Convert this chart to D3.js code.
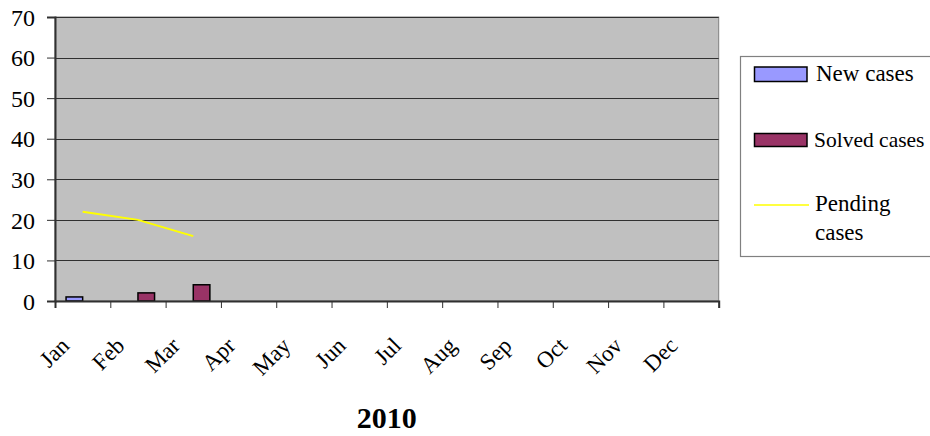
<!DOCTYPE html>
<html>
<head>
<meta charset="utf-8">
<script src="https://cdn.jsdelivr.net/npm/d3@7"></script>
<style>
  html, body { margin: 0; padding: 0; background: #ffffff; }
  svg { display: block; }
  text { font-family: "Liberation Serif", "Times New Roman", serif; fill: #000; }
</style>
</head>
<body>
<svg id="chart" width="930" height="436"></svg>
<script>
const months = ["Jan","Feb","Mar","Apr","May","Jun","Jul","Aug","Sep","Oct","Nov","Dec"];
const newCases = [1,0,0,null,null,null,null,null,null,null,null,null];
const solvedCases = [0,2,4,null,null,null,null,null,null,null,null,null];
const pendingCases = [22,20,16,null,null,null,null,null,null,null,null,null];
const yTicks = [0,10,20,30,40,50,60,70];
const seriesNames = ["New cases","Solved cases","Pending cases"];
const xTitle = "2010";

const colors = { bg: "#C0C0C0", newC: "#9999FF", solved: "#993366", pending: "#FFFF00" };
const plot = { left: 55, right: 718.7, top: 17, bottom: 301 };

const svg = d3.select("#chart");

const x = d3.scaleBand().domain(months).range([plot.left, plot.right]).paddingInner(0).paddingOuter(0);
const x1 = d3.scaleBand().domain(["new","solved"]).range([0, x.bandwidth()]).paddingInner(0).paddingOuter(0.666);
const xb = d3.scaleLinear().domain([0, months.length]).range([plot.left, plot.right]);
const y = d3.scaleLinear().domain([0, 70]).range([plot.bottom, plot.top]);

// plot background
svg.append("rect")
  .attr("x", plot.left).attr("y", plot.top)
  .attr("width", plot.right - plot.left).attr("height", plot.bottom - plot.top)
  .attr("fill", colors.bg).attr("stroke", "#808080").attr("stroke-width", 1);

// gridlines
svg.append("g").selectAll("line").data(yTicks.filter(d => d > 0)).join("line")
  .attr("x1", plot.left).attr("x2", plot.right)
  .attr("y1", d => Math.round(y(d)) + 0.5).attr("y2", d => Math.round(y(d)) + 0.5)
  .attr("stroke", "#303030").attr("stroke-width", 1);

// bars
const rows = months.map((m, i) => ({ m, n: newCases[i], s: solvedCases[i] }));
const barG = svg.append("g");
rows.forEach(r => {
  if (r.n) barG.append("rect")
    .attr("x", x(r.m) + x1("new")).attr("width", x1.bandwidth())
    .attr("y", y(r.n)).attr("height", y(0) - y(r.n))
    .attr("fill", colors.newC).attr("stroke", "#000").attr("stroke-width", 1.5);
  if (r.s) barG.append("rect")
    .attr("x", x(r.m) + x1("solved")).attr("width", x1.bandwidth())
    .attr("y", y(r.s)).attr("height", y(0) - y(r.s))
    .attr("fill", colors.solved).attr("stroke", "#000").attr("stroke-width", 1.5);
});

// pending line
const line = d3.line()
  .defined(d => d.v != null)
  .x(d => x(d.m) + x.bandwidth() / 2)
  .y(d => y(d.v));
svg.append("path")
  .datum(months.map((m, i) => ({ m, v: pendingCases[i] })))
  .attr("d", line).attr("fill", "none")
  .attr("stroke", colors.pending).attr("stroke-width", 2);

// y axis
const yAxis = svg.append("g").attr("transform", `translate(${plot.left},0)`)
  .call(d3.axisLeft(y).tickValues(yTicks).tickSize(8).tickPadding(12).tickFormat(d3.format("d")));
yAxis.select(".domain").attr("stroke", "#303030").attr("stroke-width", 2);
yAxis.selectAll(".tick line").attr("stroke", "#303030");
yAxis.selectAll(".tick text")
  .style("font-family", "'Liberation Serif', 'Times New Roman', serif")
  .style("font-size", "24px").attr("dy", "0.34em").attr("fill", "#000");

// x axis (ticks at category boundaries)
const xAxis = svg.append("g").attr("transform", `translate(0,${plot.bottom})`)
  .call(d3.axisBottom(xb).tickValues(d3.range(0, months.length + 1)).tickSize(7).tickFormat(""));
xAxis.select(".domain").attr("stroke", "#303030").attr("stroke-width", 2);
xAxis.selectAll(".tick line").attr("stroke", "#303030");

// month labels
svg.append("g").selectAll("text").data(months).join("text")
  .attr("transform", d => `translate(${x(d) + x.bandwidth() / 2 - 12},347) rotate(-45)`)
  .attr("text-anchor", "end")
  .style("font-size", "23px")
  .text(d => d);

// axis title
svg.append("text")
  .attr("x", (plot.left + plot.right) / 2).attr("y", 428)
  .attr("text-anchor", "middle")
  .style("font-size", "30px").style("font-weight", "bold")
  .text(xTitle);

// legend
const lg = svg.append("g");
lg.append("rect").attr("x", 740.5).attr("y", 56.5).attr("width", 200).attr("height", 200)
  .attr("fill", "#fff").attr("stroke", "#808080").attr("stroke-width", 1.2);
lg.append("rect").attr("x", 754.5).attr("y", 67).attr("width", 52.5).attr("height", 14.5)
  .attr("fill", colors.newC).attr("stroke", "#000").attr("stroke-width", 1.5);
lg.append("text").attr("x", 816).attr("y", 81).style("font-size", "23px").text(seriesNames[0]);
lg.append("rect").attr("x", 754.5).attr("y", 133.5).attr("width", 52.5).attr("height", 13)
  .attr("fill", colors.solved).attr("stroke", "#000").attr("stroke-width", 1.5);
lg.append("text").attr("x", 814).attr("y", 147).style("font-size", "21.5px").text(seriesNames[1]);
lg.append("line").attr("x1", 754).attr("x2", 809).attr("y1", 205).attr("y2", 205)
  .attr("stroke", colors.pending).attr("stroke-width", 1.5);
const words = seriesNames[2].split(" ");
lg.append("text").attr("x", 815).attr("y", 211).style("font-size", "23px").text(words[0]);
lg.append("text").attr("x", 815).attr("y", 240).style("font-size", "23px").text(words[1]);
</script>
</body>
</html>
